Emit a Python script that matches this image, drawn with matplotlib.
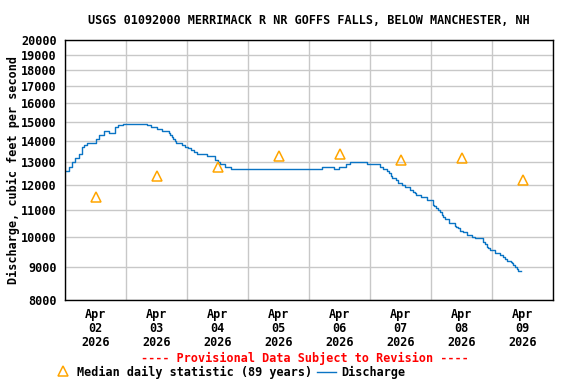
import numpy as np
import pandas as pd
import matplotlib
matplotlib.use("Agg")
import matplotlib.pyplot as plt
from matplotlib.lines import Line2D

### discharge readings, hours after Apr 02 00:00 and cfs
hours = [0, 1.5, 2.75, 4, 5.5, 6.75, 7.5, 8.75, 12, 13.25, 15.25, 17.5, 19.75, 21, 23,
         32.25, 34, 36, 38, 40.75, 41.25, 42, 42.5, 43.25, 43.75, 46, 47.25, 48.5,
         49.75, 50.75, 51.75, 55.75, 59, 60.25, 61, 63, 65.5, 101, 106, 107.75, 110.5,
         112, 119, 123.75, 125, 126.75, 127.5, 128.25, 128.5, 130.25, 131, 132.5,
         133.75, 135.75, 137, 137.75, 138.25, 140, 142.25, 144.75, 145.25, 146,
         146.75, 147.5, 148.25, 148.75, 149.5, 151.25, 153.5, 154, 154.75, 155.5,
         156.75, 158, 160, 161.25, 164.5, 165.25, 166, 166.5, 167.25, 169.25, 171.25,
         172.5, 173, 173.75, 175.5, 175.75, 176.25, 177, 177.75, 178.25, 179.25]
cfs = [12600, 12800, 13000, 13200, 13400, 13700, 13800, 13900, 14100, 14300, 14500,
       14400, 14700, 14800, 14900, 14800, 14700, 14600, 14500, 14400, 14300, 14200,
       14100, 14000, 13900, 13800, 13700, 13650, 13570, 13500, 13400, 13300, 13100,
       13000, 12900, 12800, 12700, 12800, 12700, 12800, 12900, 13000, 12900, 12800,
       12700, 12600, 12500, 12400, 12300, 12200, 12100, 12000, 11900, 11800, 11700,
       11650, 11580, 11500, 11400, 11200, 11150, 11050, 11000, 10900, 10800, 10700,
       10650, 10500, 10400, 10350, 10300, 10200, 10150, 10050, 10000, 9940, 9830,
       9740, 9650, 9600, 9540, 9430, 9380, 9300, 9240, 9190, 9150, 9100, 9050, 9000,
       8920, 8860, 8860]

### median daily statistic, one per day (plotted at noon)
days = ["2026-04-02", "2026-04-03", "2026-04-04", "2026-04-05",
        "2026-04-06", "2026-04-07", "2026-04-08", "2026-04-09"]
medians = [11500, 12400, 12800, 13300, 13400, 13100, 13200, 12200]

yticks = [8000, 9000, 10000, 11000, 12000, 13000, 14000, 15000, 16000, 17000, 18000, 19000, 20000]

start = pd.Timestamp("2026-04-02")
times = start + pd.to_timedelta(hours, unit="h")
med_times = pd.to_datetime(days) + pd.Timedelta(hours=12)

plt.rcParams['font.family'] = ['DejaVu Sans Mono']
plt.rcParams['font.weight'] = 'bold'
fs = 8.5

fig = plt.figure(figsize=(5.76, 3.84), dpi=100)
ax = fig.add_axes([65/576, 1-300/384, 488/576, 260/384])

ax.plot(times, cfs, color="#0a74c4", lw=1.0, drawstyle="steps-post")
ax.plot(med_times, medians, ls="none", marker="^", ms=6.5, mfc="none",
        mec="#ffa500", mew=1.1)

ax.set_yscale("log")
ax.set_ylim(8000, 20000)
ax.set_yticks(yticks)
ax.set_yticklabels([str(v) for v in yticks], fontsize=fs, fontweight="bold")
ax.yaxis.set_minor_locator(matplotlib.ticker.NullLocator())

ax.set_xlim(start, start + pd.Timedelta(days=8))
bounds = [start + pd.Timedelta(days=i) for i in range(9)]
ax.set_xticks(bounds)
ax.set_xticklabels([])
ax.set_xticks(med_times, minor=True)
ax.set_xticklabels(["Apr\n%s\n2026" % d[-2:] for d in days], minor=True,
                   fontsize=fs, fontweight="bold", linespacing=1.07)
ax.tick_params(axis="both", which="both", length=0)
ax.tick_params(axis="x", which="minor", pad=6)
ax.tick_params(axis="y", pad=6)

ax.grid(True, which="major", color="#c8c8c8", lw=1)
ax.set_axisbelow(True)
for s in ax.spines.values():
    s.set_linewidth(1)

ax.set_ylabel("Discharge, cubic feet per second", fontsize=fs, fontweight="bold", labelpad=1)

fig.text(309/576, 1-20/384, "USGS 01092000 MERRIMACK R NR GOFFS FALLS, BELOW MANCHESTER, NH",
         ha="center", va="center", fontsize=fs, fontweight="bold")
fig.text(305/576, 1-358/384, "---- Provisional Data Subject to Revision ----",
         ha="center", va="center", fontsize=fs, fontweight="bold", color="red")

### hand made legend
ly = 1-372/384
fig.add_artist(Line2D([63/576], [ly + 1/384], marker="^", ms=6.5, mfc="none",
                      mec="#ffa500", mew=1.1, transform=fig.transFigure))
fig.text(77/576, ly, "Median daily statistic (89 years)", ha="left", va="center",
         fontsize=fs, fontweight="bold")
fig.add_artist(Line2D([317/576, 336/576], [ly, ly], color="#0a74c4", lw=1,
                      transform=fig.transFigure))
fig.text(341/576, ly, "Discharge", ha="left", va="center", fontsize=fs, fontweight="bold")

fig.savefig("out.png", dpi=100)
